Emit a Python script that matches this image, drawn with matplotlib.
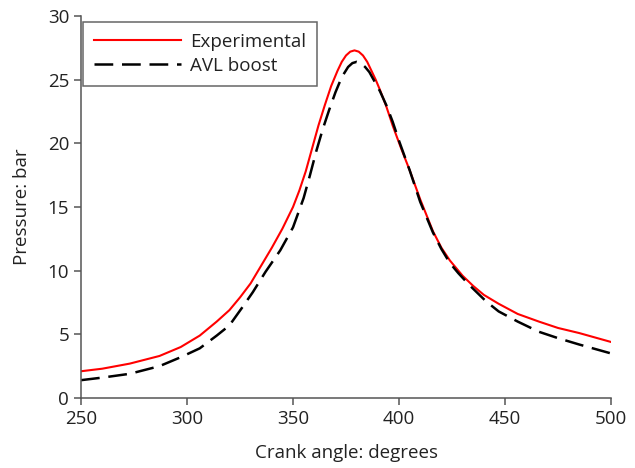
import matplotlib
matplotlib.use('Agg')
import matplotlib.pyplot as plt

# crank angle (degrees) and pressure (bar)
exp_angle = [250, 260, 273, 287, 297, 306, 314, 320, 325, 330, 335, 340, 345, 350,
             353, 356, 359, 362, 365, 368, 371, 373, 375, 377, 379, 381, 383, 385,
             387, 389, 391, 394, 397, 401, 405, 410, 416, 420, 424, 430, 435,
             440, 447, 456, 466, 475, 485, 500]
exp_p = [2.1, 2.3, 2.7, 3.3, 4.0, 4.9, 6.0, 6.9, 7.9, 9.0, 10.4, 11.8, 13.3, 15.0,
         16.3, 17.8, 19.6, 21.4, 23.0, 24.5, 25.7, 26.4, 26.9, 27.2, 27.3, 27.2, 26.9, 26.4,
         25.7, 25.0, 24.2, 22.9, 21.4, 19.6, 17.9, 15.6, 13.1, 11.8, 10.8, 9.6, 8.8,
         8.1, 7.4, 6.6, 6.0, 5.5, 5.1, 4.4]

avl_angle = [250, 260, 273, 287, 297, 306, 314, 320, 326, 331, 337, 344, 350, 355,
             358, 361, 364, 367, 370, 373, 376, 378, 380, 382, 384, 386, 388, 391,
             394, 397, 400, 405, 410, 416, 420, 424, 428, 433,
             441, 447, 456, 466, 475, 485, 500]
avl_p = [1.4, 1.6, 1.9, 2.5, 3.2, 3.9, 4.9, 5.7, 7.1, 8.3, 9.9, 11.6, 13.4, 15.7,
         17.5, 19.4, 21.1, 22.6, 24.0, 25.2, 26.0, 26.3, 26.4, 26.3, 26.0, 25.6, 25.0, 24.1,
         23.0, 21.7, 20.2, 17.9, 15.4, 13.0, 11.7, 10.6, 9.8, 8.9,
         7.6, 6.8, 6.0, 5.2, 4.7, 4.2, 3.5]

x_ticks = [250, 300, 350, 400, 450, 500]
y_ticks = [0, 5, 10, 15, 20, 25, 30]

plt.rcParams['font.family'] = ['Open Sans', 'DejaVu Sans']
txt = '#222222'
spine = '#555555'
fs = 13.5

fig = plt.figure(figsize=(6.35, 4.68), dpi=100)
ax = fig.add_axes([0.1276, 0.1496, 0.8346, 0.8162])

ax.plot(exp_angle, exp_p, color='#ff0000', lw=1.5, label='Experimental')
ax.plot(avl_angle, avl_p, color='black', lw=1.8, dashes=(7.5, 3.5), label='AVL boost')

ax.set_xlim(250, 500)
ax.set_ylim(0, 30)
ax.set_xticks(x_ticks)
ax.set_yticks(y_ticks)
ax.set_xlabel('Crank angle: degrees', color=txt, fontsize=fs, labelpad=12)
ax.set_ylabel('Pressure: bar', color=txt, fontsize=fs, labelpad=12)

for s in ['top', 'right']:
    ax.spines[s].set_visible(False)
for s in ['left', 'bottom']:
    ax.spines[s].set_color(spine)
    ax.spines[s].set_linewidth(1.1)
ax.tick_params(colors=spine, labelcolor=txt, length=5, width=1.1, labelsize=fs)

leg = ax.legend(loc='upper left', bbox_to_anchor=(0.004, 0.985), fancybox=False,
                edgecolor='#666666', framealpha=1, fontsize=fs, handlelength=4.6,
                handletextpad=0.5, borderpad=0.6, labelspacing=0.3, borderaxespad=0)
leg.get_frame().set_linewidth(1.1)
for t in leg.get_texts():
    t.set_color(txt)

fig.savefig('out.png', dpi=100)
